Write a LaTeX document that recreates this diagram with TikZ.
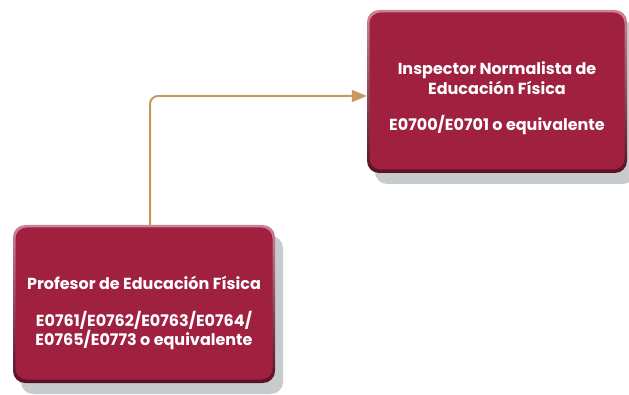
\documentclass[tikz,border=0pt]{standalone}
\usepackage{fontspec}
\setmainfont{Poppins}
\usetikzlibrary{arrows.meta,shadows}

\definecolor{guinda}{RGB}{160,32,64}
\definecolor{dorado}{RGB}{200,152,94}
\definecolor{sombra}{RGB}{200,203,205}

\tikzset{
    puesto/.style={rounded corners=12pt, top color=guinda!55!white, bottom color=guinda!55!black,
        drop shadow={shadow xshift=8pt, shadow yshift=-11pt, fill=sombra, opacity=1},
        path picture={\fill[guinda, rounded corners=11pt]
            ([shift={(2.5pt,-2.5pt)}]path picture bounding box.north west) rectangle
            ([shift={(-2.5pt,3.5pt)}]path picture bounding box.south east);}},
    rotulo/.style={text=white, font=\fontsize{16}{19.5}\selectfont\bfseries, align=center},
    flujo/.style={dorado, line width=2pt, rounded corners=8pt, -{Triangle[length=15pt,width=12pt]}}
}

\begin{document}
\begin{tikzpicture}[x=1pt, y=-1pt]
    \useasboundingbox (0,0) rectangle (629,395);

    \node[puesto, minimum width=260pt, minimum height=163pt] (insp) at (497,91.5) {};
    \node[rotulo] (insp-txt) at ([yshift=-7pt]insp.center)
        {Inspector Normalista de\\Educación Física\\[17pt]E0700/E0701 o equivalente};

    \node[puesto, minimum width=262pt, minimum height=158pt] (prof) at (144,304) {};
    \node[rotulo] (prof-txt) at ([yshift=-9pt]prof.center)
        {Profesor de Educación Física\\[17pt]E0761/E0762/E0763/E0764/\\E0765/E0773 o equivalente};

    % ascenso
    \draw[flujo] ([xshift=6pt]prof.north) |- ([yshift=-4.5pt]insp.west);
\end{tikzpicture}
\end{document}
